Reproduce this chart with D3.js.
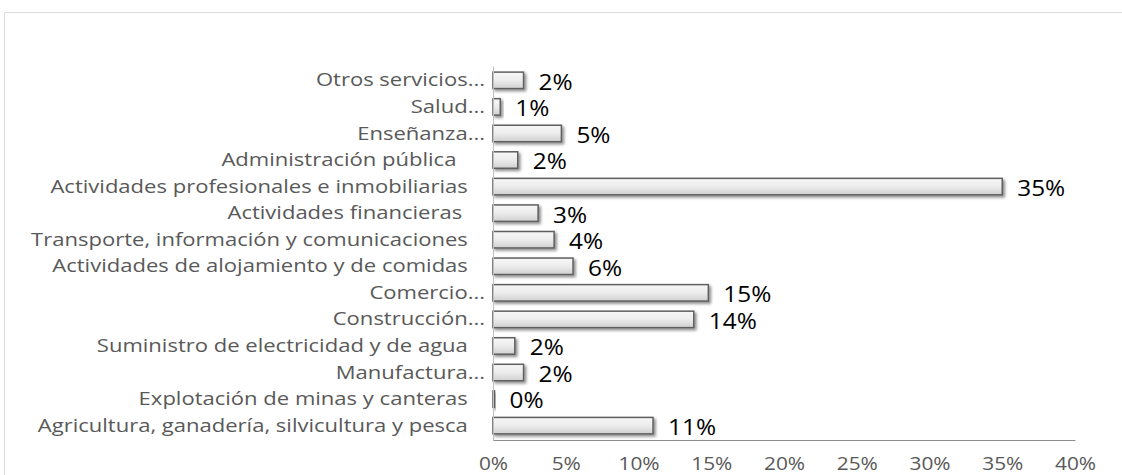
<!DOCTYPE html>
<html>
<head>
<meta charset="utf-8">
<script src="https://cdn.jsdelivr.net/npm/d3@7"></script>
<style>
  body { margin: 0; background: #fff; }
  text { font-family: "Open Sans", sans-serif; white-space: pre; }
</style>
</head>
<body>
<div id="chart"></div>
<script>
//Chart data, top to bottom (trailing spaces are part of the source labels)
var categories = [
	"Otros servicios...",
	"Salud...",
	"Enseñanza...",
	"Administración pública     ",
	"Actividades profesionales e inmobiliarias   ",
	"Actividades financieras    ",
	"Transporte, información y comunicaciones   ",
	"Actividades de alojamiento y de comidas   ",
	"Comercio...",
	"Construcción...",
	"Suministro de electricidad y de agua   ",
	"Manufactura...",
	"Explotación de minas y canteras   ",
	"Agricultura, ganadería, silvicultura y pesca   "
];
var values = [2.1, 0.5, 4.7, 1.7, 35.0, 3.1, 4.2, 5.5, 14.8, 13.8, 1.5, 2.1, 0.1, 11.0];
var valueLabels = ["2%", "1%", "5%", "2%", "35%", "3%", "4%", "6%", "15%", "14%", "2%", "2%", "0%", "11%"];
var ticks = [0, 5, 10, 15, 20, 25, 30, 35, 40];

var W = 1122, H = 475;
var margin = {top: 66, right: 47, bottom: 35, left: 493};
var w = 1075 - margin.left,
	h = 440 - margin.top;
var stretch = 1.16; //the source text is drawn a bit wide

var svg = d3.select("#chart").append("svg")
	.attr("width", W).attr("height", H);

//Chart area border
svg.append("path")
	.attr("d", "M4.5," + H + "V12.5H" + W)
	.attr("fill", "none").attr("stroke", "#d9d9d9").attr("stroke-width", 1);

var defs = svg.append("defs");
var grad = defs.append("linearGradient").attr("id", "bar-grad")
	.attr("x1", 0).attr("y1", 0).attr("x2", 0).attr("y2", 1);
grad.append("stop").attr("offset", "0%").attr("stop-color", "#f7f7f7");
grad.append("stop").attr("offset", "50%").attr("stop-color", "#ececec");
grad.append("stop").attr("offset", "100%").attr("stop-color", "#d0d0d0");

var shadow = defs.append("filter").attr("id", "shadow")
	.attr("x", "-20%").attr("y", "-40%").attr("width", "160%").attr("height", "200%");
shadow.append("feGaussianBlur").attr("in", "SourceAlpha").attr("stdDeviation", 1.5).attr("result", "blur");
shadow.append("feOffset").attr("in", "blur").attr("dx", 2).attr("dy", 2).attr("result", "off");
shadow.append("feComponentTransfer").attr("in", "off").attr("result", "soft")
	.append("feFuncA").attr("type", "linear").attr("slope", 0.45);
var merge = shadow.append("feMerge");
merge.append("feMergeNode").attr("in", "soft");
merge.append("feMergeNode").attr("in", "SourceGraphic");

var g = svg.append("g")
	.attr("transform", "translate(" + margin.left + "," + margin.top + ")");

var x = d3.scaleLinear().domain([0, 40]).range([0, w]);
var y = d3.scaleBand().domain(categories).range([0, h]).paddingInner(0.38).paddingOuter(0.23);

//Bars
g.selectAll("rect.bar")
	.data(values)
	.enter().append("rect")
	.attr("class", "bar")
	.attr("x", 0)
	.attr("y", function(d, i) { return y(categories[i]); })
	.attr("width", function(d) { return x(d); })
	.attr("height", y.bandwidth())
	.attr("fill", "url(#bar-grad)")
	.attr("stroke", "#5f5f5f")
	.attr("stroke-width", 1.5)
	.attr("filter", "url(#shadow)");

//Value labels
g.selectAll("text.val")
	.data(valueLabels)
	.enter().append("text")
	.attr("class", "val")
	.attr("transform", function(d, i) {
		return "translate(" + (x(values[i]) + 15) + "," + (y(categories[i]) + y.bandwidth() / 2 + 2) + ") scale(" + stretch + ",1)";
	})
	.attr("dy", "0.35em")
	.attr("font-size", 21)
	.attr("fill", "#000")
	.text(function(d) { return d; });

//Category axis
var yAxis = g.append("g").call(d3.axisLeft(y).tickSize(0));
yAxis.select(".domain").attr("stroke", "#bfbfbf");
yAxis.selectAll("text")
	.attr("x", -8 / stretch)
	.attr("transform", "scale(" + stretch + ",1)")
	.attr("font-size", 19).attr("fill", "#595959")
	.style("font-family", "'Open Sans', sans-serif");

//Value axis
var xAxis = g.append("g").attr("transform", "translate(0," + h + ")")
	.call(d3.axisBottom(x).tickValues(ticks).tickSize(0).tickPadding(17)
		.tickFormat(function(d) { return d + "%"; }));
xAxis.select(".domain").attr("stroke", "#8c8c8c");
xAxis.selectAll("text")
	.attr("transform", "scale(" + stretch + ",1)")
	.attr("font-size", 18).attr("fill", "#595959")
	.style("font-family", "'Open Sans', sans-serif");
</script>
</body>
</html>
